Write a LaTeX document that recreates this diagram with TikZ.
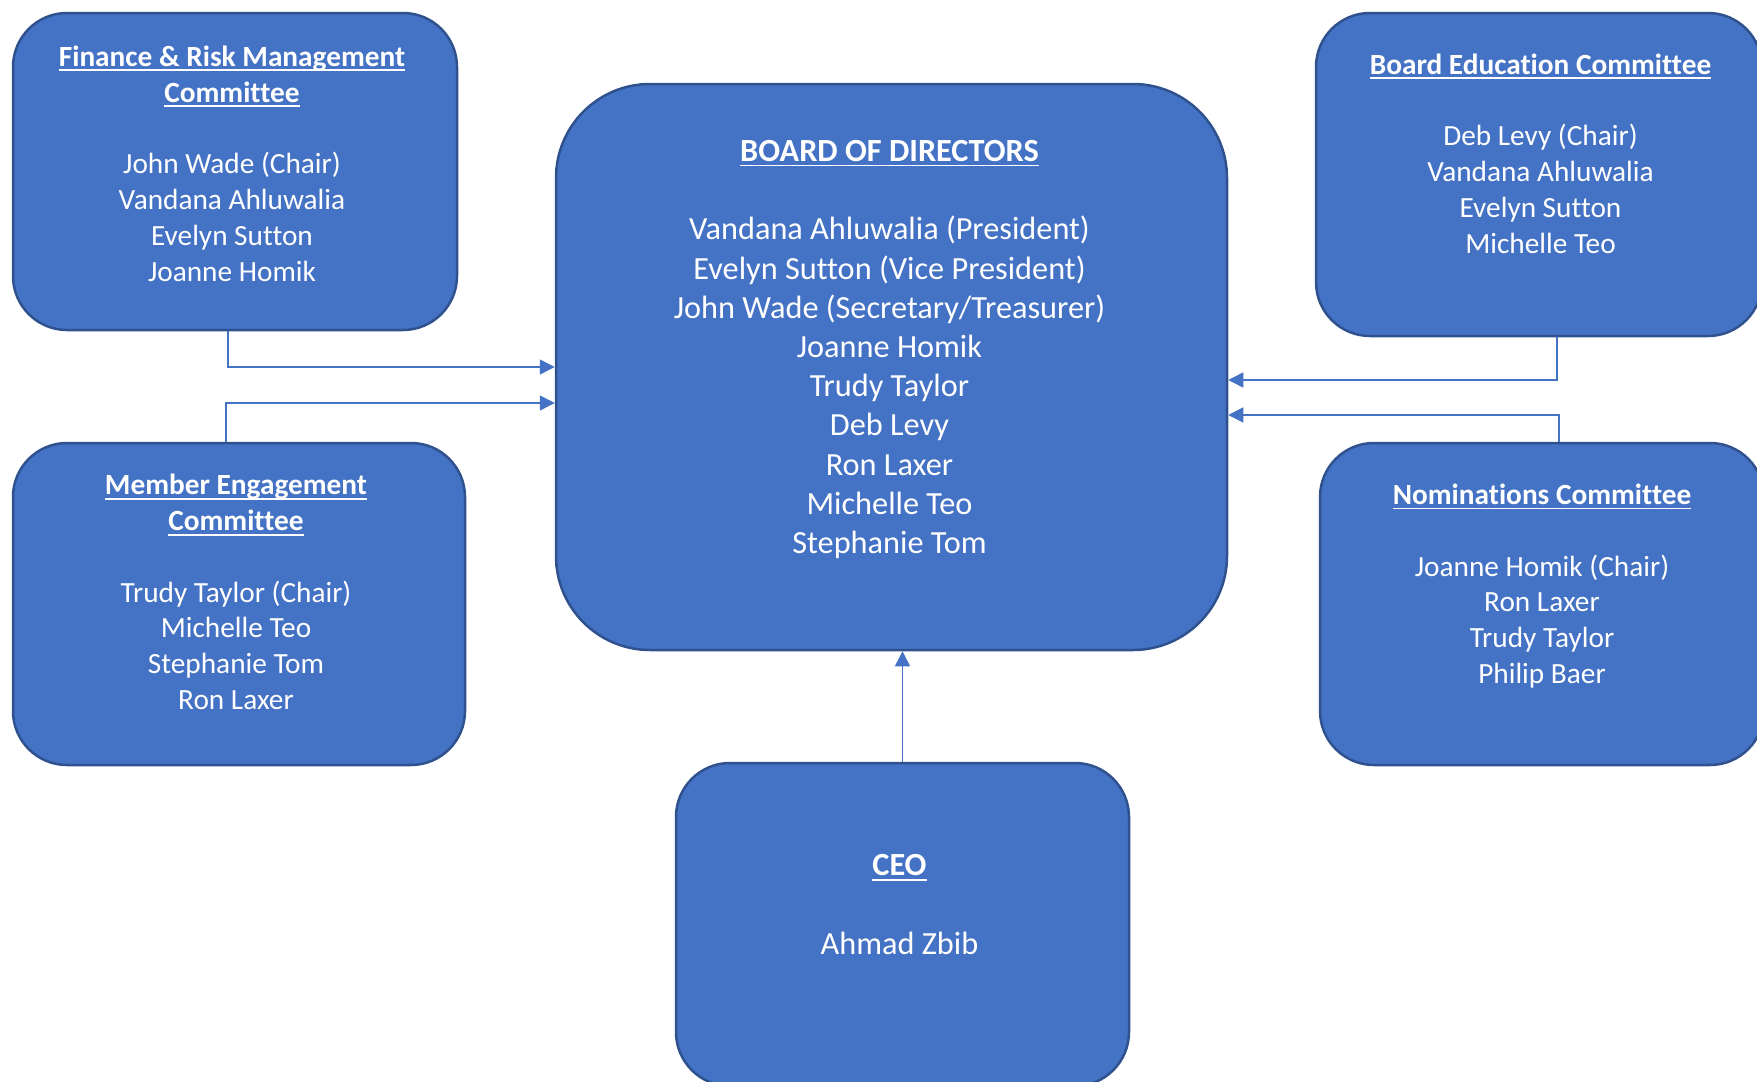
\documentclass[tikz,border=0pt]{standalone}
\usepackage{fontspec}
\setmainfont[Ligatures=NoCommon]{Carlito}
\usetikzlibrary{arrows.meta}

\definecolor{boxfill}{HTML}{4472C4}
\definecolor{boxline}{HTML}{2F528F}
\definecolor{linkline}{HTML}{4472C4}

% bold underlined heading
\newsavebox{\headbox}
\newcommand{\heading}[1]{\sbox{\headbox}{\bfseries #1}\rlap{\rule[-5pt]{\wd\headbox}{1.8pt}}\usebox{\headbox}}

\begin{document}
\begin{tikzpicture}[x=1pt, y=-1pt]
    % Define styles for boxes, texts and links
    \tikzstyle{box} = [draw=boxline, fill=boxfill, line width=2.5pt, rounded corners=54pt, inner sep=0pt]
    \tikzstyle{txt} = [text=white, align=center, inner sep=0pt]
    \tikzstyle{small} = [font=\fontsize{29.3}{35.8}\selectfont]
    \tikzstyle{big} = [font=\fontsize{32.3}{39.2}\selectfont]
    \tikzstyle{link} = [draw=linkline, line width=1.5pt, -{Triangle[length=15pt, width=15pt]}]

    \useasboundingbox (0,0) rectangle (1757,1082);

    % Boxes
    \node[box, minimum width=444pt, minimum height=317pt] (fin) at (235,171.5) {};
    \node[box, minimum width=452pt, minimum height=322pt] (mem) at (239,604) {};
    \node[box, minimum width=671pt, minimum height=566pt, rounded corners=94pt] (board) at (891.5,367) {};
    \node[box, minimum width=446pt, minimum height=323pt] (edu) at (1539,174.5) {};
    \node[box, minimum width=444pt, minimum height=322pt] (nom) at (1542,604) {};
    \node[box, minimum width=453pt, minimum height=323pt] (ceo) at (902.5,924.5) {};

    % Texts
    \node[txt, small, xshift=-3pt, yshift=8pt] (fintext) at (fin) {\heading{Finance \& Risk Management}\\
        \heading{Committee}\\[35.8pt]
        John Wade (Chair)\\ Vandana Ahluwalia\\ Evelyn Sutton\\ Joanne Homik};
    \node[txt, small, xshift=-3pt, yshift=12pt] (memtext) at (mem) {\heading{Member Engagement}\\
        \heading{Committee}\\[35.8pt]
        Trudy Taylor (Chair)\\ Michelle Teo\\ Stephanie Tom\\ Ron Laxer};
    \node[txt, big, xshift=-2pt, yshift=17.5pt] (boardtext) at (board) {\heading{BOARD OF DIRECTORS}\\[39.2pt]
        Vandana Ahluwalia (President)\\ Evelyn Sutton (Vice President)\\
        John Wade (Secretary/Treasurer)\\ Joanne Homik\\ Trudy Taylor\\ Deb Levy\\
        Ron Laxer\\ Michelle Teo\\ Stephanie Tom};
    \node[txt, small, xshift=1.5pt, yshift=21pt] (edutext) at (edu) {\heading{Board Education Committee}\\[35.8pt]
        Deb Levy (Chair)\\ Vandana Ahluwalia\\ Evelyn Sutton\\ Michelle Teo};
    \node[txt, small, xshift=0pt, yshift=18pt] (nomtext) at (nom) {\heading{Nominations Committee}\\[35.8pt]
        Joanne Homik (Chair)\\ Ron Laxer\\ Trudy Taylor\\ Philip Baer};
    \node[txt, big, xshift=-3pt, yshift=20pt] (ceotext) at (ceo) {\heading{CEO}\\[39.2pt] Ahmad Zbib};

    % Links to the board
    \draw[link] ([xshift=-7pt]fin.south) |- (board.west);
    \draw[link] ([xshift=-13pt]mem.north) |- ([yshift=-36pt]board.west);
    \draw[link] ([xshift=18pt]edu.south) |- ([yshift=-13pt]board.east);
    \draw[link] ([xshift=17pt]nom.north) |- ([yshift=-48pt]board.east);
    \draw[link] (ceo.north) -- (ceo.north |- board.south);
\end{tikzpicture}
\end{document}
